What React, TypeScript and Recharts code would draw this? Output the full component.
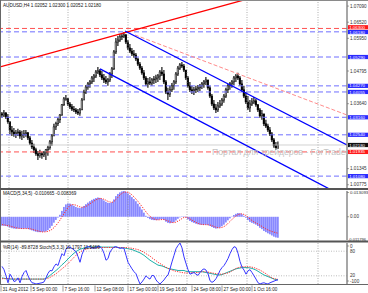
import React from 'react';
import { ComposedChart, Bar, Line, XAxis, YAxis, ReferenceLine } from 'recharts';

// [open, high, low, close] per H4 bar
const ohlc: number[][] = [
  [1.0328,1.0335,1.0314,1.0324],[1.0324,1.0342,1.0317,1.0331],[1.0331,1.0335,1.0310,1.0317],[1.0317,1.0328,1.0293,1.0300],
  [1.0300,1.0300,1.0257,1.0271],[1.0271,1.0285,1.0250,1.0264],[1.0264,1.0278,1.0247,1.0257],[1.0257,1.0271,1.0243,1.0261],
  [1.0261,1.0275,1.0250,1.0264],[1.0264,1.0271,1.0240,1.0250],[1.0250,1.0268,1.0236,1.0254],[1.0254,1.0271,1.0243,1.0257],
  [1.0257,1.0271,1.0247,1.0261],[1.0261,1.0264,1.0236,1.0243],[1.0243,1.0250,1.0218,1.0225],[1.0225,1.0236,1.0204,1.0211],
  [1.0211,1.0222,1.0190,1.0201],[1.0201,1.0208,1.0180,1.0187],[1.0187,1.0197,1.0165,1.0180],[1.0180,1.0201,1.0173,1.0187],
  [1.0187,1.0194,1.0169,1.0183],[1.0183,1.0197,1.0176,1.0190],[1.0190,1.0204,1.0165,1.0201],[1.0201,1.0215,1.0180,1.0208],
  [1.0208,1.0236,1.0201,1.0229],[1.0229,1.0257,1.0215,1.0250],[1.0250,1.0293,1.0250,1.0282],[1.0282,1.0300,1.0271,1.0293],
  [1.0293,1.0314,1.0285,1.0307],[1.0307,1.0328,1.0296,1.0324],[1.0324,1.0363,1.0321,1.0360],[1.0360,1.0388,1.0356,1.0381],
  [1.0381,1.0395,1.0374,1.0381],[1.0381,1.0384,1.0356,1.0363],[1.0363,1.0370,1.0345,1.0353],[1.0353,1.0363,1.0338,1.0345],
  [1.0345,1.0356,1.0335,1.0342],[1.0342,1.0349,1.0328,1.0335],[1.0335,1.0345,1.0324,1.0331],[1.0331,1.0349,1.0321,1.0342],
  [1.0342,1.0384,1.0342,1.0377],[1.0377,1.0413,1.0377,1.0405],[1.0405,1.0430,1.0398,1.0423],[1.0423,1.0441,1.0413,1.0434],
  [1.0434,1.0448,1.0420,1.0441],[1.0441,1.0462,1.0434,1.0455],[1.0455,1.0469,1.0441,1.0462],[1.0462,1.0483,1.0455,1.0476],
  [1.0476,1.0494,1.0469,1.0480],[1.0480,1.0487,1.0458,1.0466],[1.0466,1.0480,1.0448,1.0455],[1.0455,1.0469,1.0437,1.0448],
  [1.0448,1.0462,1.0434,1.0441],[1.0441,1.0455,1.0427,1.0448],[1.0448,1.0476,1.0441,1.0469],[1.0469,1.0494,1.0455,1.0487],
  [1.0487,1.0554,1.0483,1.0547],[1.0547,1.0596,1.0540,1.0582],[1.0582,1.0603,1.0568,1.0589],[1.0589,1.0610,1.0582,1.0600],
  [1.0600,1.0614,1.0589,1.0603],[1.0603,1.0617,1.0596,1.0607],[1.0607,1.0610,1.0575,1.0582],[1.0582,1.0589,1.0554,1.0561],
  [1.0561,1.0575,1.0543,1.0550],[1.0550,1.0561,1.0533,1.0540],[1.0540,1.0554,1.0526,1.0536],[1.0536,1.0543,1.0515,1.0522],
  [1.0522,1.0526,1.0497,1.0504],[1.0504,1.0511,1.0483,1.0490],[1.0490,1.0497,1.0466,1.0473],[1.0473,1.0483,1.0448,1.0455],
  [1.0455,1.0462,1.0427,1.0434],[1.0434,1.0455,1.0420,1.0441],[1.0441,1.0458,1.0430,1.0437],[1.0437,1.0455,1.0427,1.0448],
  [1.0448,1.0462,1.0434,1.0451],[1.0451,1.0466,1.0437,1.0455],[1.0455,1.0469,1.0441,1.0462],[1.0462,1.0483,1.0448,1.0476],
  [1.0476,1.0494,1.0462,1.0469],[1.0469,1.0483,1.0434,1.0441],[1.0441,1.0448,1.0398,1.0405],[1.0405,1.0420,1.0377,1.0398],
  [1.0398,1.0427,1.0388,1.0413],[1.0413,1.0437,1.0405,1.0427],[1.0427,1.0448,1.0413,1.0441],[1.0441,1.0476,1.0434,1.0469],
  [1.0469,1.0497,1.0462,1.0490],[1.0490,1.0508,1.0483,1.0501],[1.0501,1.0511,1.0490,1.0497],[1.0497,1.0504,1.0476,1.0483],
  [1.0483,1.0483,1.0448,1.0455],[1.0455,1.0462,1.0420,1.0427],[1.0427,1.0441,1.0405,1.0413],[1.0413,1.0427,1.0398,1.0409],
  [1.0409,1.0423,1.0395,1.0413],[1.0413,1.0427,1.0402,1.0416],[1.0416,1.0430,1.0405,1.0420],[1.0420,1.0434,1.0409,1.0427],
  [1.0427,1.0441,1.0416,1.0434],[1.0434,1.0448,1.0420,1.0441],[1.0441,1.0458,1.0430,1.0448],[1.0448,1.0448,1.0413,1.0420],
  [1.0420,1.0427,1.0384,1.0391],[1.0391,1.0398,1.0356,1.0363],[1.0363,1.0377,1.0342,1.0349],[1.0349,1.0363,1.0331,1.0342],
  [1.0342,1.0370,1.0335,1.0356],[1.0356,1.0377,1.0349,1.0363],[1.0363,1.0384,1.0356,1.0377],[1.0377,1.0398,1.0367,1.0391],
  [1.0391,1.0420,1.0384,1.0413],[1.0413,1.0434,1.0402,1.0427],[1.0427,1.0441,1.0413,1.0434],[1.0434,1.0448,1.0420,1.0441],
  [1.0441,1.0462,1.0430,1.0455],[1.0455,1.0469,1.0441,1.0462],[1.0462,1.0473,1.0448,1.0455],[1.0455,1.0462,1.0427,1.0434],
  [1.0434,1.0448,1.0405,1.0413],[1.0413,1.0427,1.0384,1.0391],[1.0391,1.0405,1.0363,1.0370],[1.0370,1.0391,1.0342,1.0349],
  [1.0349,1.0377,1.0335,1.0363],[1.0363,1.0384,1.0356,1.0370],[1.0370,1.0388,1.0363,1.0374],[1.0374,1.0381,1.0353,1.0360],
  [1.0360,1.0363,1.0335,1.0342],[1.0342,1.0349,1.0314,1.0321],[1.0321,1.0342,1.0307,1.0328],[1.0328,1.0328,1.0285,1.0293],
  [1.0293,1.0307,1.0278,1.0285],[1.0285,1.0293,1.0264,1.0271],[1.0271,1.0282,1.0250,1.0257],[1.0257,1.0264,1.0229,1.0236],
  [1.0236,1.0243,1.0208,1.0215],[1.0215,1.0229,1.0201,1.0208],[1.02052,1.02300,1.02052,1.02180],
];

const macdHist = [
  -0.0045,-0.0046,-0.0047,-0.0050,-0.0055,
  -0.0058,-0.0060,-0.0061,-0.0060,-0.0060,-0.0061,-0.0060,-0.0059,
  -0.0061,-0.0065,-0.0069,-0.0073,-0.0076,-0.0078,-0.0078,-0.0077,-0.0076,-0.0074,
  -0.0068,-0.0058,-0.0046,-0.0030,-0.0016,-0.0004,
  0.0010,0.0030,0.0050,0.0063,0.0068,
  0.0067,0.0062,0.0056,0.0050,0.0046,0.0044,0.0048,
  0.0055,0.0064,0.0072,0.0079,0.0086,0.0091,0.0095,0.0098,0.0096,
  0.0090,0.0083,0.0076,0.0071,0.0070,0.0074,
  0.0088,0.0105,0.0116,0.0124,0.0129,0.0131,0.0127,
  0.0119,0.0110,0.0100,0.0090,0.0079,0.0066,0.0052,0.0037,0.0021,
  0.0005,-0.0006,-0.0012,-0.0016,-0.0017,-0.0017,-0.0016,-0.0013,
  -0.0011,-0.0016,-0.0025,-0.0031,-0.0033,-0.0031,-0.0027,
  -0.0019,-0.0010,-0.0003,0.0002,0.0002,-0.0004,-0.0013,-0.0021,-0.0027,
  -0.0031,-0.0035,-0.0038,-0.0040,-0.0041,-0.0041,-0.0040,-0.0042,-0.0046,
  -0.0052,-0.0057,-0.0060,-0.0058,-0.0054,-0.0048,-0.0040,
  -0.0029,-0.0018,-0.0008,0.0001,0.0009,0.0015,0.0019,
  0.0018,0.0013,0.0005,-0.0005,-0.0017,-0.0026,
  -0.0031,-0.0035,-0.0040,-0.0047,-0.0056,-0.0063,-0.0072,
  -0.0078,-0.0084,-0.0089,-0.0095,-0.0101,-0.0105,-0.010665,
];

const macdSignal = [
  -0.0040,-0.0041,-0.0043,-0.0045,-0.0047,
  -0.0050,-0.0053,-0.0056,-0.0058,-0.0059,-0.0060,-0.0060,-0.0060,
  -0.0060,-0.0061,-0.0063,-0.0066,-0.0069,-0.0072,-0.0075,-0.0077,-0.0077,-0.0076,
  -0.0074,-0.0070,-0.0064,-0.0055,-0.0044,-0.0031,
  -0.0017,0.0000,0.0016,0.0032,0.0047,
  0.0058,0.0062,0.0062,0.0059,0.0054,0.0050,0.0048,
  0.0049,0.0053,0.0059,0.0066,0.0073,0.0080,0.0086,0.0091,0.0093,
  0.0092,0.0089,0.0084,0.0078,0.0075,0.0073,
  0.0078,0.0088,0.0099,0.0111,0.0119,0.0125,0.0126,
  0.0124,0.0119,0.0111,0.0101,0.0090,0.0078,0.0065,0.0052,0.0038,
  0.0025,0.0012,0.0002,-0.0006,-0.0011,-0.0015,-0.0016,-0.0015,
  -0.0014,-0.0014,-0.0017,-0.0021,-0.0026,-0.0029,-0.0030,
  -0.0027,-0.0022,-0.0016,-0.0009,-0.0003,-0.0002,-0.0005,-0.0011,-0.0017,
  -0.0023,-0.0029,-0.0034,-0.0037,-0.0039,-0.0040,-0.0040,-0.0041,-0.0042,
  -0.0045,-0.0049,-0.0053,-0.0056,-0.0056,-0.0054,-0.0050,
  -0.0043,-0.0034,-0.0024,-0.0013,-0.0004,0.0004,0.0011,
  0.0014,0.0015,0.0012,0.0006,-0.0002,-0.0011,
  -0.0019,-0.0026,-0.0032,-0.0037,-0.0043,-0.0049,-0.0056,
  -0.0062,-0.0067,-0.0071,-0.0075,-0.0078,-0.0081,-0.008369,
];

const wpr = [
  -57,-65,-80,-97,-76,-84,-94,-92,-85,-97,-82,-72,-67,-80,-90,-97,-98,-100,-99,-98,
  -97,-95,-85,-74,-67,-68,-58,-51,-55,-40,-26,-31,-15,-9,-11,-13,-17,-21,-33,-47,
  -28,-16,-10,-9,-9,-12,-13,-11,-9,-9,-14,-25,-42,-38,-22,-15,-10,-9,-11,-13,
  -12,-13,-30,-47,-55,-63,-70,-75,-88,-100,-95,-88,-80,-85,-88,-79,-80,-90,-96,-100,
  -95,-90,-83,-78,-63,-46,-30,-14,-6,0,-12,-34,-50,-65,-76,-74,-72,-76,-79,-72,
  -66,-63,-66,-75,-92,-96,-93,-87,-78,-67,-60,-55,-47,-38,-26,-16,-9,-11,-25,-45,
  -59,-66,-76,-68,-65,-72,-80,-88,-97,-100,-98,-97,-99,-100,-97,-95,-93,-91,-89.8728,
];

const stochMain = [
  15,14,13,13,12,12,12,12,12,12,12,12,12,12,12,
  12,12,12,12,12,12,12,
  14,17,21,25,29,33,37,42,47,
  51,56,61,66,71,75,79,82,85,86,
  88,89,90,90,90,90,91,91,91,90,
  90,90,90,90,90,90,90,89,88,88,
  88,87,86,85,84,82,80,78,76,73,
  70,66,62,58,55,52,49,46,45,44,
  42,40,38,37,36,35,34,33,33,33,
  33,31,30,30,30,30,30,30,30,30,
  29,28,27,26,25,24,23,22,22,23,
  25,27,29,31,33,35,37,38,39,40,
  40,40,40,39,38,36,34,31,28,25,
  22,20,18,16,14,12,11,10.1797,
];

const stochSignal = [
  13,13,13,13,13,13,12,12,12,12,12,12,12,12,12,
  12,12,12,12,12,12,12,
  13,14,16,19,22,25,29,33,37,
  41,45,50,55,60,65,70,74,78,81,
  83,85,86,87,88,88,89,89,89,89,
  89,89,89,89,89,89,89,89,89,89,
  89,89,88,88,87,86,85,84,82,80,
  77,74,71,68,64,60,57,53,50,47,
  44,41,38,36,34,32,31,30,29,28,
  27,27,27,27,28,28,28,28,29,30,
  30,30,29,28,27,26,25,25,24,24,
  25,26,27,29,32,35,38,40,41,42,
  42,42,42,42,41,40,38,36,34,31,
  28,25,21,18,15,13,12,11.5469,
];

const timeTickIdx = [-0.5, 14.5, 30.5, 46.5, 63, 78, 95, 110, 125];
const timeTickLabels = ['31 Aug 2012', '5 Sep 00:00', '7 Sep 16:00', '12 Sep 08:00', '17 Sep 00:00', '19 Sep 16:00', '24 Sep 08:00', '27 Sep 00:00', '1 Oct 16:00'];
const gridIdx = [3.5, 33, 63, 92.5, 122.5, 158];

const priceTicks = [1.0709, 1.0652, 1.0595, 1.04795, 1.0364, 1.01345, 1.00775];
const blueLevels = [1.0618, 1.0529, 1.0427, 1.04055, 1.0316, 1.0254, 1.0108];
const redLevels = [1.0630, 1.01935];
const bidPrice = 1.0218;

const redTrend = [[-0.5, 1.0495], [149, 1.0785]];
const channelUpper = [[61.5, 1.0621], [172.5, 1.0218]];
const channelLower = [[49, 1.0487], [172.5, 1.0030]];
const dashedTrend = [[66.5, 1.0607], [172.5, 1.0324]];

const macdTicks = [0.013093, 0, -0.011796];
const macdTickLabels = ['0.013093', '0.00', '-0.011796'];
const wprTicks = [0, -100];
const stochLevels = [80, 20];

const rows = ohlc.map(([o, h, l, c], i) => ({
  i, o, h, l, c, range: [l, h],
  macd: macdHist[i], sig: macdSignal[i], wpr: wpr[i], st: stochMain[i], ss: stochSignal[i],
}));

const FONT = '"Liberation Sans", Arial, sans-serif';
const FS = 4.6;
const X_DOMAIN: [number, number] = [-0.5, 172.5];

const Candle = (props: any) => {
  const { x, width, y, height, index } = props;
  const d = props.payload && props.payload.o !== undefined ? props.payload : rows[index];
  if (!d) return null;
  const top = height >= 0 ? y : y + height;
  const hh = Math.abs(height);
  const cx = x + width / 2;
  const span = d.h - d.l || 1e-9;
  const yO = top + ((d.h - d.o) / span) * hh;
  const yC = top + ((d.h - d.c) / span) * hh;
  const bt = Math.min(yO, yC);
  const bh = Math.max(Math.abs(yC - yO), 0.8);
  const bull = d.c >= d.o;
  return (
    <g>
      <line x1={cx} x2={cx} y1={top} y2={top + hh} stroke="#000" strokeWidth={1.1} />
      <rect x={cx - 0.85} y={bt} width={1.7} height={bh} fill={bull ? '#b8b8b8' : '#000000'} stroke="#000" strokeWidth={0.5} />
    </g>
  );
};

const HistBar = (props: any) => {
  const { x, width, y, height } = props;
  const top = height >= 0 ? y : y + height;
  const hh = Math.abs(height);
  return <rect x={x + width / 2 - 0.75} y={top} width={1.5} height={Math.max(hh, 0.3)} fill="#7676ff" />;
};

const makeTick = (values: number[], labels?: string[], nudges?: number[], fmt?: (v: number) => string, sizes?: number[]) => (p: any) => {
  const v = p.payload.value;
  const k = values.findIndex((t) => Math.abs(t - v) < 1e-9);
  const label = labels && k >= 0 ? labels[k] : fmt ? fmt(v) : String(v);
  const dy = nudges && k >= 0 ? nudges[k] : 0;
  const fs = sizes && k >= 0 ? sizes[k] : FS;
  const long = label.length > 8;
  return (
    <g>
      {!long && <line x1={p.x} x2={p.x + 2} y1={p.y + dy} y2={p.y + dy} stroke="#666" strokeWidth={0.6} />}
      <text x={p.x + (long ? 1 : 3)} y={p.y + dy + 1.6} fontSize={fs} fill="#333" fontFamily={FONT}>{label}</text>
    </g>
  );
};

const tag = (text: string, bg: string, dy = 0) => (p: any) => {
  const vb = p.viewBox || {};
  const x = (vb.x ?? 0) + (vb.width ?? 0) + 1;
  const y = (vb.y ?? 0) + dy;
  return (
    <g>
      <rect x={x} y={y - 2.1} width={20} height={4.2} fill={bg} />
      <text x={x + 1.2} y={y + 1.55} fontSize={4.4} fill="#ffffff" fontFamily={FONT}>{text}</text>
    </g>
  );
};

const sideLabel = (text: string) => (p: any) => {
  const vb = p.viewBox || {};
  const x = (vb.x ?? 0) + (vb.width ?? 0) + 3;
  const y = vb.y ?? 0;
  return <text x={x} y={y + 1.6} fontSize={FS} fill="#333" fontFamily={FONT}>{text}</text>;
};

const TimeTick = (p: any) => {
  const k = timeTickIdx.findIndex((t) => Math.abs(t - p.payload.value) < 1e-9);
  return (
    <g>
      <line x1={p.x} x2={p.x} y1={p.y + 1.5} y2={p.y + 7.5} stroke="#555" strokeWidth={0.6} />
      <text x={p.x + 1.5} y={p.y + 6.8} fontSize={FS} fill="#222" fontFamily={FONT}>{k >= 0 ? timeTickLabels[k] : ''}</text>
    </g>
  );
};

const gridLines = (yAxisId?: string) =>
  gridIdx.map((g) => (
    <ReferenceLine key={'g' + g} x={g} yAxisId={yAxisId as any} stroke="#8a8a8a" strokeWidth={0.7} strokeDasharray="1 1.5" />
  ));

const MainChart = () => (
  <ComposedChart width={368} height={189} data={rows} margin={{ top: 1, right: 0, bottom: 1, left: 1 }}>
    <XAxis dataKey="i" type="number" domain={X_DOMAIN} allowDataOverflow hide />
    <YAxis
      orientation="right" width={21} domain={[1.0066, 1.0727]} allowDataOverflow
      ticks={priceTicks} interval={0} tickSize={0} tickMargin={0} tickLine={false}
      axisLine={{ stroke: '#8a8a8a', strokeWidth: 1.5 }}
      tick={makeTick(priceTicks, undefined, undefined, (v) => v.toFixed(5))}
    />
    {gridLines()}
    <ReferenceLine y={bidPrice} stroke="#c8c8c8" strokeWidth={0.8} label={tag(bidPrice.toFixed(5), '#111111')} />
    {blueLevels.map((v, k) => (
      <ReferenceLine key={'b' + v} y={v} stroke="#6f6fff" strokeWidth={1} strokeDasharray="5 3" label={tag(v.toFixed(5), '#2a2aff', k === 0 ? 0.2 : 0)} />
    ))}
    {redLevels.map((v, k) => (
      <ReferenceLine key={'r' + v} y={v} stroke="#ff5050" strokeWidth={1} strokeDasharray="5 3" label={tag(v.toFixed(5), '#ff1a1a', k === 0 ? -1.2 : 0)} />
    ))}
    <Bar dataKey="range" barSize={2} shape={Candle} isAnimationActive={false} />
    <ReferenceLine segment={dashedTrend.map(([x, y]) => ({ x, y }))} stroke="#ff8c8c" strokeWidth={1} strokeDasharray="4 2" ifOverflow="hidden" />
    <ReferenceLine segment={redTrend.map(([x, y]) => ({ x, y }))} stroke="#ff0000" strokeWidth={1.3} ifOverflow="hidden" />
    <ReferenceLine segment={channelUpper.map(([x, y]) => ({ x, y }))} stroke="#0000ff" strokeWidth={1.3} ifOverflow="hidden" />
    <ReferenceLine segment={channelLower.map(([x, y]) => ({ x, y }))} stroke="#0000ff" strokeWidth={1.3} ifOverflow="hidden" />
  </ComposedChart>
);

const MacdChart = () => (
  <ComposedChart width={368} height={53} data={rows} margin={{ top: 2, right: 0, bottom: 2, left: 1 }}>
    <XAxis dataKey="i" type="number" domain={X_DOMAIN} allowDataOverflow hide />
    <YAxis
      orientation="right" width={21} domain={[-0.011796, 0.013093]} allowDataOverflow
      ticks={macdTicks} interval={0} tickSize={0} tickMargin={0} tickLine={false}
      axisLine={{ stroke: '#8a8a8a', strokeWidth: 1.5 }}
      tick={makeTick(macdTicks, macdTickLabels, [1.5, 0, -1], undefined, [4.4, 4.6, 4.1])}
    />
    {gridLines()}
    <Bar dataKey="macd" barSize={2} fill="#7676ff" shape={HistBar} isAnimationActive={false} />
    <Line dataKey="sig" type="linear" stroke="#ff3030" strokeWidth={1} strokeDasharray="1.2 1.2" dot={false} isAnimationActive={false} />
  </ComposedChart>
);

const StochChart = () => (
  <ComposedChart width={368} height={51} data={rows} margin={{ top: 1, right: 0, bottom: 0, left: 1 }}>
    <XAxis
      dataKey="i" type="number" domain={X_DOMAIN} allowDataOverflow height={9}
      ticks={timeTickIdx} interval={0} tickSize={0} tickMargin={0} tickLine={false} axisLine={false}
      tick={TimeTick}
    />
    <YAxis
      yAxisId="w" orientation="right" width={21} domain={[-100, 0]} allowDataOverflow
      ticks={wprTicks} interval={0} tickSize={0} tickMargin={0} tickLine={false}
      axisLine={{ stroke: '#8a8a8a', strokeWidth: 1.5 }}
      tick={makeTick(wprTicks, ['0', '-100'], [3, -3])}
    />
    <YAxis yAxisId="s" hide domain={[0, 100]} />
    {gridLines('w')}
    {stochLevels.map((v) => (
      <ReferenceLine key={'s' + v} yAxisId="s" y={v} stroke="#a0a0a0" strokeWidth={0.7} strokeDasharray="1 1.5" label={sideLabel(String(v))} />
    ))}
    <Line yAxisId="s" dataKey="st" type="linear" stroke="#20b2aa" strokeWidth={1} dot={false} isAnimationActive={false} />
    <Line yAxisId="s" dataKey="ss" type="linear" stroke="#ff3030" strokeWidth={1} strokeDasharray="1.2 1.2" dot={false} isAnimationActive={false} />
    <Line yAxisId="w" dataKey="wpr" type="linear" stroke="#3535ff" strokeWidth={1} dot={false} isAnimationActive={false} />
  </ComposedChart>
);

export default function App() {
  return (
    <div style={{ position: 'absolute', left: 0, top: 0, width: 368, height: 293, background: '#ffffff', overflow: 'hidden', fontFamily: FONT }}>
      <div style={{ position: 'absolute', left: 0, top: 0 }}><MainChart /></div>
      <div style={{ position: 'absolute', left: 0, top: 189 }}><MacdChart /></div>
      <div style={{ position: 'absolute', left: 0, top: 242 }}><StochChart /></div>
      <svg width={368} height={293} style={{ position: 'absolute', left: 0, top: 0, pointerEvents: 'none' }}>
        <defs>
          <clipPath id="wmclip"><rect x={1} y={1} width={346} height={187} /></clipPath>
        </defs>
        <text x={212} y={154.5} fontSize={8.6} fill="#c4c4c4" fontFamily={FONT} clipPath="url(#wmclip)">Портал для трейдеров - ForTrader</text>
        <text x={3} y={6.8} fontSize={FS} fill="#111" fontFamily={FONT}>AUDUSD,H4  1.02052 1.02300 1.02052 1.02180</text>
        <text x={3} y={195.2} fontSize={FS} fill="#111" fontFamily={FONT}>MACD(5,34,5) -0.010665 -0.008369</text>
        <text x={3} y={248.6} fontSize={FS} fill="#111" fontFamily={FONT}>%R(14) -89.8728  Stoch(5,3,3) 10.1797 11.5469</text>
        <line x1={0} x2={368} y1={0.5} y2={0.5} stroke="#8a8a8a" strokeWidth={1} />
        <line x1={0.5} x2={0.5} y1={0} y2={285} stroke="#666" strokeWidth={1} />
        <rect x={0} y={188} width={368} height={2} fill="#555" />
        <rect x={0} y={240.5} width={368} height={2} fill="#555" />
        <line x1={0} x2={368} y1={284.5} y2={284.5} stroke="#666" strokeWidth={1} />
      </svg>
    </div>
  );
}
